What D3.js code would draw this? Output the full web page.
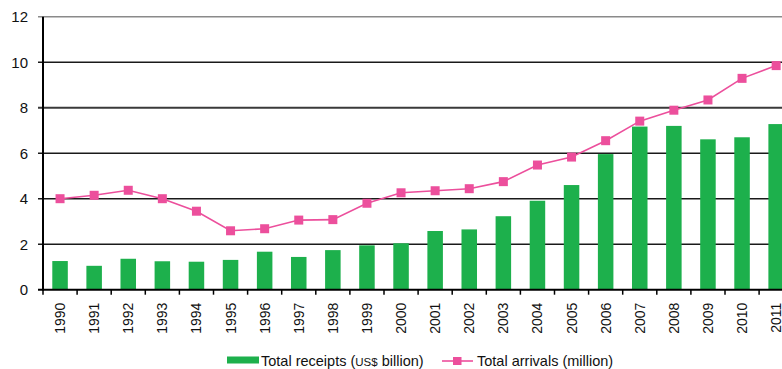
<!DOCTYPE html>
<html>
<head>
<meta charset="utf-8">
<script src="https://cdn.jsdelivr.net/npm/d3@7/dist/d3.min.js"></script>
<style>
  html, body { margin: 0; padding: 0; background: #fff; }
  svg { display: block; font-family: "Liberation Sans", Arial, sans-serif; }
</style>
</head>
<body>
<svg id="chart" width="782" height="369"></svg>
<script>
// Tourism: receipts (US$ billion) and arrivals (million), 1990–2011
const years = ["1990","1991","1992","1993","1994","1995","1996","1997","1998","1999","2000",
               "2001","2002","2003","2004","2005","2006","2007","2008","2009","2010","2011"];
const receipts = [1.26,1.05,1.36,1.25,1.23,1.31,1.67,1.44,1.74,1.95,2.04,
                  2.58,2.65,3.23,3.91,4.60,5.96,7.17,7.20,6.61,6.70,7.28];
const arrivals = [4.00,4.15,4.37,4.00,3.45,2.59,2.68,3.06,3.08,3.80,4.26,
                  4.35,4.44,4.75,5.48,5.83,6.55,7.41,7.89,8.34,9.29,9.85];
const yTicks = [0,2,4,6,8,10,12];
const legendLabels = ["Total receipts (", "US$", " billion)", "Total arrivals (million)"];

const green = "#1db04c";
const pink = "#ec4f9c";

const svg = d3.select("#chart");
const plotLeft = 43, plotBottom = 289.7, plotTop = 16.7, step = 34.1;

const x = d3.scaleBand().domain(years).range([plotLeft, plotLeft + step * years.length]).padding(0);
const y = d3.scaleLinear().domain([0, 12]).range([plotBottom, plotTop]);

// horizontal gridlines
svg.append("g").selectAll("line").data(yTicks.filter(d => d > 0)).join("line")
  .attr("x1", plotLeft - 5).attr("x2", 782)
  .attr("y1", d => y(d)).attr("y2", d => y(d))
  .attr("stroke", d => d === 12 ? "#8a8a8a" : (d === 8 ? "#3a3a3a" : "#1a1a1a"))
  .attr("stroke-width", d => d === 8 ? 2 : 1.6);

// y tick labels
svg.append("g").selectAll("text").data(yTicks).join("text")
  .attr("x", 28).attr("y", d => y(d)).attr("dy", "0.36em")
  .attr("text-anchor", "end").attr("font-size", 15).attr("fill", "#111")
  .text(d => d);

// bars
const bw = x.bandwidth() * 0.455;
svg.append("g").selectAll("rect").data(years).join("rect")
  .attr("x", d => x(d) + (x.bandwidth() - bw) / 2)
  .attr("width", bw)
  .attr("y", (d, i) => y(receipts[i]))
  .attr("height", (d, i) => y(0) - y(receipts[i]))
  .attr("fill", green);

// axis lines
svg.append("line").attr("x1", plotLeft).attr("x2", plotLeft).attr("y1", plotTop).attr("y2", plotBottom + 1)
  .attr("stroke", "#000").attr("stroke-width", 2);
svg.append("line").attr("x1", plotLeft - 5).attr("x2", 800).attr("y1", plotBottom).attr("y2", plotBottom)
  .attr("stroke", "#000").attr("stroke-width", 2);

// x ticks between categories
const boundaries = years.map(d => x(d)).concat([x(years[years.length - 1]) + x.bandwidth()]);
svg.append("g").selectAll("line").data(boundaries).join("line")
  .attr("x1", d => d).attr("x2", d => d)
  .attr("y1", plotBottom).attr("y2", plotBottom + 5)
  .attr("stroke", "#000").attr("stroke-width", 1.5);

// x tick labels (rotated)
svg.append("g").selectAll("text").data(years).join("text")
  .attr("transform", d => `translate(${x(d) + x.bandwidth() / 2},${plotBottom + 13}) rotate(-90)`)
  .attr("text-anchor", "end").attr("dy", "0.36em")
  .attr("font-size", 14).attr("fill", "#111")
  .text(d => d);

// arrivals line with square markers
const cx = d => x(d) + x.bandwidth() / 2;
const line = d3.line().x((d, i) => cx(years[i])).y(d => y(d));
svg.append("path").datum(arrivals).attr("d", line)
  .attr("fill", "none").attr("stroke", pink).attr("stroke-width", 1.6);
const ms = 9;
svg.append("g").selectAll("rect").data(arrivals).join("rect")
  .attr("x", (d, i) => cx(years[i]) - ms / 2)
  .attr("y", d => y(d) - ms / 2)
  .attr("width", ms).attr("height", ms)
  .attr("fill", pink);

// legend
const lg = svg.append("g").attr("font-size", 14.5).attr("fill", "#111");
lg.append("rect").attr("x", 227).attr("y", 356.5).attr("width", 32).attr("height", 7).attr("fill", green);
const t1 = lg.append("text").attr("x", 261).attr("y", 361).attr("dy", "0.36em");
t1.append("tspan").text(legendLabels[0]);
t1.append("tspan").attr("font-size", 11.5).text(legendLabels[1]);
t1.append("tspan").text(legendLabels[2]);
lg.append("line").attr("x1", 442).attr("x2", 473).attr("y1", 361).attr("y2", 361)
  .attr("stroke", pink).attr("stroke-width", 1.6);
lg.append("rect").attr("x", 453).attr("y", 357).attr("width", 8.5).attr("height", 8).attr("fill", pink);
lg.append("text").attr("x", 477).attr("y", 361).attr("dy", "0.36em").text(legendLabels[3]);
</script>
</body>
</html>
